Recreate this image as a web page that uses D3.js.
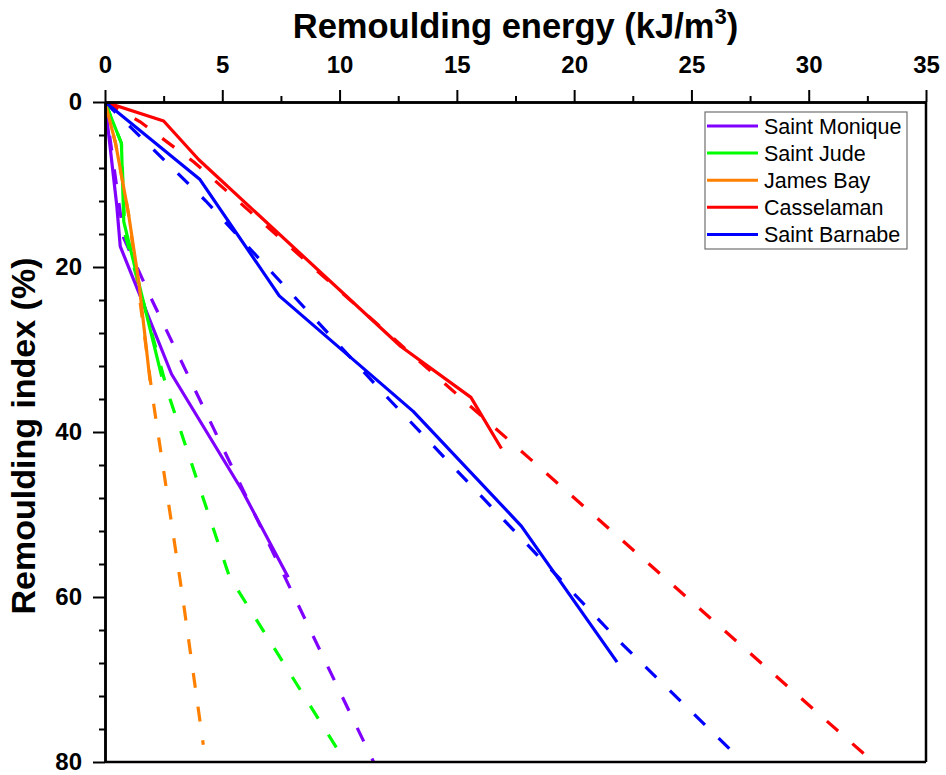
<!DOCTYPE html>
<html>
<head>
<meta charset="utf-8">
<script src="https://cdn.jsdelivr.net/npm/d3@7"></script>
<style>
  body { margin: 0; background: #fff; }
  svg { display: block; }
  text { font-family: "Liberation Sans", Arial, sans-serif; }
</style>
</head>
<body>
<svg id="chart" width="946" height="775"></svg>
<script>
// ---------- data ----------
const seriesNames = ["Saint Monique", "Saint Jude", "James Bay", "Casselaman", "Saint Barnabe"];
const seriesColors = ["#8000ff", "#00ff00", "#ff8000", "#ff0000", "#0000ff"];

// measured curves (solid): energy (kJ/m3) and remoulding index (%)
const monique_meas_x = [0, 0.5, 0.65, 2.84, 5.83, 7.81];
const monique_meas_y = [0, 12.5, 17.5, 33.0, 47.0, 57.6];
const jude_meas_x = [0, 0.7, 0.8, 2.42];
const jude_meas_y = [0, 5, 14.5, 33.3];
const james_meas_x = [0, 0.45, 1.0, 1.45, 1.92];
const james_meas_y = [0, 5, 13.5, 22, 33.8];
const cassel_meas_x = [0, 2.5, 4.0, 12.6, 15.6, 16.9];
const cassel_meas_y = [0, 2.3, 7.0, 29.6, 35.8, 42.0];
const barnabe_meas_x = [0, 4.05, 7.43, 13.14, 17.75, 21.83];
const barnabe_meas_y = [0, 9.4, 23.5, 37.5, 51.4, 67.9];

// model curves (dashed)
const monique_fit_x = [0, 0.8, 2.0, 11.45];
const monique_fit_y = [0, 16.5, 24.0, 80];
const jude_fit_x = [0, 0.7, 0.85, 2.7, 5.3, 10.25];
const jude_fit_y = [0, 5, 16, 35.4, 57.5, 80];
const james_fit_x = [0, 0.45, 1.0, 2.03, 3.31, 4.19];
const james_fit_y = [0, 5, 13.5, 35.8, 60, 77.9];
const cassel_fit_x = [0, 1.5, 3.8, 32.75];
const cassel_fit_y = [0, 2.4, 7.3, 80];
const barnabe_fit_x = [0, 4.3, 12.1, 21.9, 27.2];
const barnabe_fit_y = [0, 12, 36, 65.3, 80];

const xTicks = [0, 5, 10, 15, 20, 25, 30, 35];
const xMinorTicks = [2.5, 7.5, 12.5, 17.5, 22.5, 27.5, 32.5];
const yTicks = [0, 20, 40, 60, 80];
const yMinorTicks = [4, 8, 12, 16, 24, 28, 32, 36, 44, 48, 52, 56, 64, 68, 72, 76];

const measured = [
  [monique_meas_x, monique_meas_y],
  [jude_meas_x, jude_meas_y],
  [james_meas_x, james_meas_y],
  [cassel_meas_x, cassel_meas_y],
  [barnabe_meas_x, barnabe_meas_y]
];
const fitted = [
  [monique_fit_x, monique_fit_y],
  [jude_fit_x, jude_fit_y],
  [james_fit_x, james_fit_y],
  [cassel_fit_x, cassel_fit_y],
  [barnabe_fit_x, barnabe_fit_y]
];

// ---------- layout ----------
const svg = d3.select("#chart");
const mLeft = 105, mTop = 102, width = 821, height = 660;

const x = d3.scaleLinear().domain([0, 35]).range([0, width]);
const y = d3.scaleLinear().domain([0, 80]).range([0, height]);

const g = svg.append("g").attr("transform", `translate(${mLeft},${mTop})`);

svg.append("defs").append("clipPath").attr("id", "clip")
  .append("rect").attr("x", 0).attr("y", 0).attr("width", width).attr("height", height);

const line = d3.line().x(d => x(d[0])).y(d => y(d[1]));
const toPts = (xs, ys) => xs.map((v, i) => [v, ys[i]]);

const plot = g.append("g").attr("clip-path", "url(#clip)");

fitted.forEach((s, i) => {
  plot.append("path")
    .attr("d", line(toPts(s[0], s[1])))
    .attr("fill", "none")
    .attr("stroke", seriesColors[i])
    .attr("stroke-width", 3.2)
    .attr("stroke-dasharray", "15,19");
});
measured.forEach((s, i) => {
  plot.append("path")
    .attr("d", line(toPts(s[0], s[1])))
    .attr("fill", "none")
    .attr("stroke", seriesColors[i])
    .attr("stroke-width", 3.2)
    .attr("stroke-linejoin", "round");
});

g.append("line").attr("x1", width).attr("x2", width).attr("y1", 0).attr("y2", height)
  .attr("stroke", "#000").attr("stroke-width", 2.5);
g.append("line").attr("x1", 0).attr("x2", width).attr("y1", height).attr("y2", height)
  .attr("stroke", "#000").attr("stroke-width", 2.5);

const xMinor = g.append("g").call(d3.axisTop(x).tickValues(xMinorTicks).tickSize(6).tickFormat("").tickSizeOuter(0));
const xAxis = g.append("g").call(d3.axisTop(x).tickValues(xTicks).tickSize(12).tickPadding(17).tickSizeOuter(0));
const yMinor = g.append("g").call(d3.axisLeft(y).tickValues(yMinorTicks).tickSize(6).tickFormat("").tickSizeOuter(0));
const yAxis = g.append("g").call(d3.axisLeft(y).tickValues(yTicks).tickSize(12).tickPadding(11).tickSizeOuter(0));

[xMinor, xAxis, yMinor, yAxis].forEach(a => {
  a.select(".domain").attr("stroke", "#000").attr("stroke-width", 2.5);
  a.selectAll(".tick line").attr("stroke", "#000").attr("stroke-width", 2);
  a.selectAll(".tick text")
    .attr("fill", "#000")
    .style("font-family", '"Liberation Sans", Arial, sans-serif')
    .style("font-size", "24px")
    .style("font-weight", "bold");
});

const xt = svg.append("text")
  .attr("x", mLeft + width / 2).attr("y", 38)
  .attr("text-anchor", "middle")
  .style("font-size", "34.5px").style("font-weight", "bold");
xt.append("tspan").text("Remoulding energy (kJ/m");
xt.append("tspan").text("3").attr("dy", -14).style("font-size", "22px");
xt.append("tspan").text(")").attr("dy", 14);

svg.append("text")
  .attr("transform", `translate(35,${mTop + height / 2 + 4}) rotate(-90)`)
  .attr("text-anchor", "middle")
  .style("font-size", "34px").style("font-weight", "bold")
  .text("Remoulding index (%)");

const lg = svg.append("g");
lg.append("rect").attr("x", 705).attr("y", 112).attr("width", 202).attr("height", 137)
  .attr("fill", "#fff").attr("stroke", "#707070").attr("stroke-width", 1.2);
seriesNames.forEach((name, i) => {
  const yy = 126 + i * 27.1;
  lg.append("line").attr("x1", 707).attr("x2", 758).attr("y1", yy).attr("y2", yy)
    .attr("stroke", seriesColors[i]).attr("stroke-width", 3);
  lg.append("text").attr("x", 764).attr("y", yy).attr("dy", "0.35em")
    .style("font-size", "21.5px").text(name);
});
</script>
</body>
</html>
